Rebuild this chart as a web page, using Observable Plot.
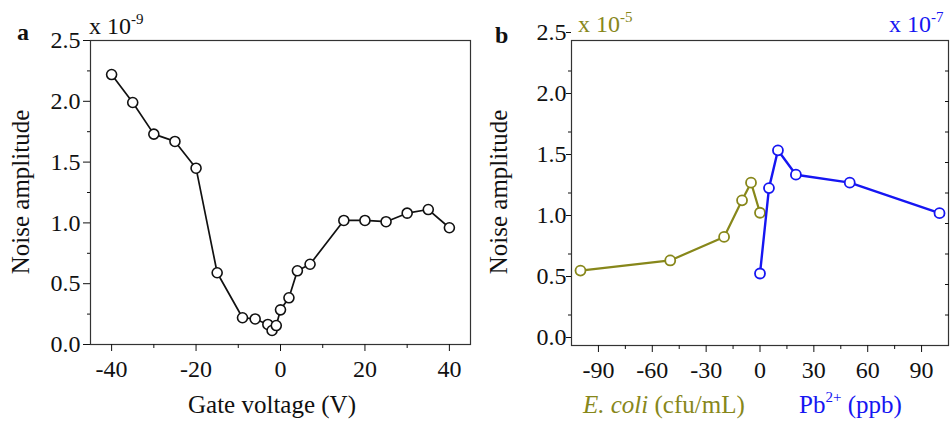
<!DOCTYPE html>
<html>
<head>
<meta charset="utf-8">
<script src="https://cdn.jsdelivr.net/npm/d3@7"></script>
<script src="https://cdn.jsdelivr.net/npm/@observablehq/plot@0.6"></script>
<style>
  html, body { margin: 0; padding: 0; background: #ffffff; }
  #wrap { position: relative; width: 952px; height: 423px; display: flex; }
  #overlay { position: absolute; left: 0; top: 0; pointer-events: none; }
  #wrap svg, #wrap svg text { font-family: "Liberation Serif", "Times New Roman", Tinos, Times, "DejaVu Serif", serif !important; }
</style>
</head>
<body>
<div id="wrap"></div>
<script>
// ---- Panel a data ----
const gateVoltage = [-40, -35, -30, -25, -20, -15, -9, -6, -3, -2, -1, 0, 2, 4, 7, 15, 20, 25, 30, 35, 40];
const noiseGate   = [2.22, 1.99, 1.73, 1.67, 1.45, 0.59, 0.22, 0.21, 0.165, 0.115, 0.156, 0.285, 0.384, 0.606, 0.66, 1.02, 1.02, 1.01, 1.08, 1.11, 0.96];

// ---- Panel b data ----
const ecoliConc  = [-100, -50, -20, -10, -5, 0];
const noiseEcoli = [0.614, 0.697, 0.89, 1.19, 1.335, 1.088];
const pbConc     = [0, 5, 10, 20, 50, 100];
const noisePb    = [0.59, 1.29, 1.60, 1.40, 1.335, 1.085];

// ---- Ticks ----
const xMajorA = [-40, -20, 0, 20, 40];
const xMinorA = [-30, -10, 10, 30];
const xMajorB = [-90, -60, -30, 0, 30, 60, 90];
const xMinorB = [-75, -45, -15, 15, 45, 75];
const yMajor  = [0, 0.5, 1.0, 1.5, 2.0, 2.5];
const yMinor  = [0.25, 0.75, 1.25, 1.75, 2.25];
const yRight  = [0.25, 0.5, 0.75, 1.0, 1.25, 1.5, 1.75, 2.0, 2.25];

const olive = "#87871a";
const blue  = "#1616f2";
const serif = "'Liberation Serif', 'Times New Roman', Tinos, Times, 'DejaVu Serif', serif";

const dataA = gateVoltage.map((v, i) => ({v, n: noiseGate[i]}));
const dataE = ecoliConc.map((c, i) => ({c, n: noiseEcoli[i]}));
const dataP = pbConc.map((c, i) => ({c, n: noisePb[i]}));

const style = {fontFamily: serif, fontSize: "24px", color: "#111", background: "transparent", overflow: "visible"};
const fmtY = d => d.toFixed(1);
const blank = () => "";

const plotA = Plot.plot({
  width: 476, height: 423,
  marginLeft: 90, marginRight: 6, marginTop: 40, marginBottom: 79,
  x: {domain: [-45, 45]},
  y: {domain: [0, 2.5]},
  style,
  marks: [
    Plot.frame({stroke: "#333", strokeWidth: 1.2}),
    Plot.axisX(xMajorA, {anchor: "bottom", tickSize: 7, tickPadding: 8, tickFormat: d => String(d), label: null}),
    Plot.axisX(xMinorA, {anchor: "bottom", tickSize: 4, tickFormat: blank, label: null}),
    Plot.axisY(yMajor, {anchor: "left", tickSize: 7, tickPadding: 3, tickFormat: fmtY, label: null}),
    Plot.axisY(yMinor, {anchor: "left", tickSize: 3, tickFormat: blank, label: null}),
    Plot.line(dataA, {x: "v", y: "n", stroke: "#111", strokeWidth: 1.7}),
    Plot.dot(dataA, {x: "v", y: "n", r: 5, stroke: "#111", fill: "white", strokeWidth: 1.6})
  ]
});

const plotB = Plot.plot({
  width: 476, height: 423,
  marginLeft: 95, marginRight: 4, marginTop: 40, marginBottom: 78,
  x: {domain: [-105, 105]},
  y: {domain: [0, 2.5]},
  style,
  marks: [
    Plot.frame({stroke: "#333", strokeWidth: 1.2}),
    Plot.axisX(xMajorB, {anchor: "bottom", tickSize: 7, tickPadding: 8, tickFormat: d => String(d), label: null}),
    Plot.axisX(xMinorB, {anchor: "bottom", tickSize: 4, tickFormat: blank, label: null}),
    Plot.axisY(yMajor, {anchor: "left", tickSize: 5, tickPadding: 0, dy: -8, tickFormat: fmtY, label: null}),
    Plot.axisY(yMinor, {anchor: "left", tickSize: 3, tickFormat: blank, label: null}),
    Plot.axisY(yRight, {anchor: "right", tickSize: -4, tickFormat: blank, label: null}),
    Plot.line(dataE, {x: "c", y: "n", stroke: olive, strokeWidth: 2.2}),
    Plot.dot(dataE, {x: "c", y: "n", r: 5, stroke: olive, fill: "white", strokeWidth: 1.8}),
    Plot.line(dataP, {x: "c", y: "n", stroke: blue, strokeWidth: 2.4}),
    Plot.dot(dataP, {x: "c", y: "n", r: 5, stroke: blue, fill: "white", strokeWidth: 1.8})
  ]
});

const wrap = document.getElementById("wrap");
wrap.appendChild(plotA);
wrap.appendChild(plotB);

// ---- Text overlay (labels, panel letters, multipliers) ----
const ns = "http://www.w3.org/2000/svg";
const ov = document.createElementNS(ns, "svg");
ov.setAttribute("id", "overlay");
ov.setAttribute("width", 952);
ov.setAttribute("height", 423);
ov.setAttribute("font-family", serif);
ov.innerHTML = `
  <text x="17" y="40" font-size="24" font-weight="bold" fill="#111">a</text>
  <text x="495" y="43" font-size="24" font-weight="bold" fill="#111">b</text>
  <text x="89" y="34" font-size="24" fill="#111">x 10<tspan font-size="15" dy="-10">-9</tspan></text>
  <text x="578" y="32" font-size="24" fill="${olive}">x 10<tspan font-size="15" dy="-10">-5</tspan></text>
  <text x="889" y="32" font-size="24" fill="${blue}">x 10<tspan font-size="15" dy="-10">-7</tspan></text>
  <text transform="translate(29,192) rotate(-90)" text-anchor="middle" font-size="25" fill="#111">Noise amplitude</text>
  <text transform="translate(507,192) rotate(-90)" text-anchor="middle" font-size="25" fill="#111">Noise amplitude</text>
  <text x="272" y="413" text-anchor="middle" font-size="25" fill="#111">Gate voltage (V)</text>
  <text x="583" y="413" font-size="25" fill="${olive}"><tspan font-style="italic">E. coli</tspan> (cfu/mL)</text>
  <text x="799" y="413" font-size="25" fill="${blue}">Pb<tspan font-size="15" dy="-11">2+</tspan><tspan dy="11"> (ppb)</tspan></text>
`;
wrap.appendChild(ov);
</script>
</body>
</html>
